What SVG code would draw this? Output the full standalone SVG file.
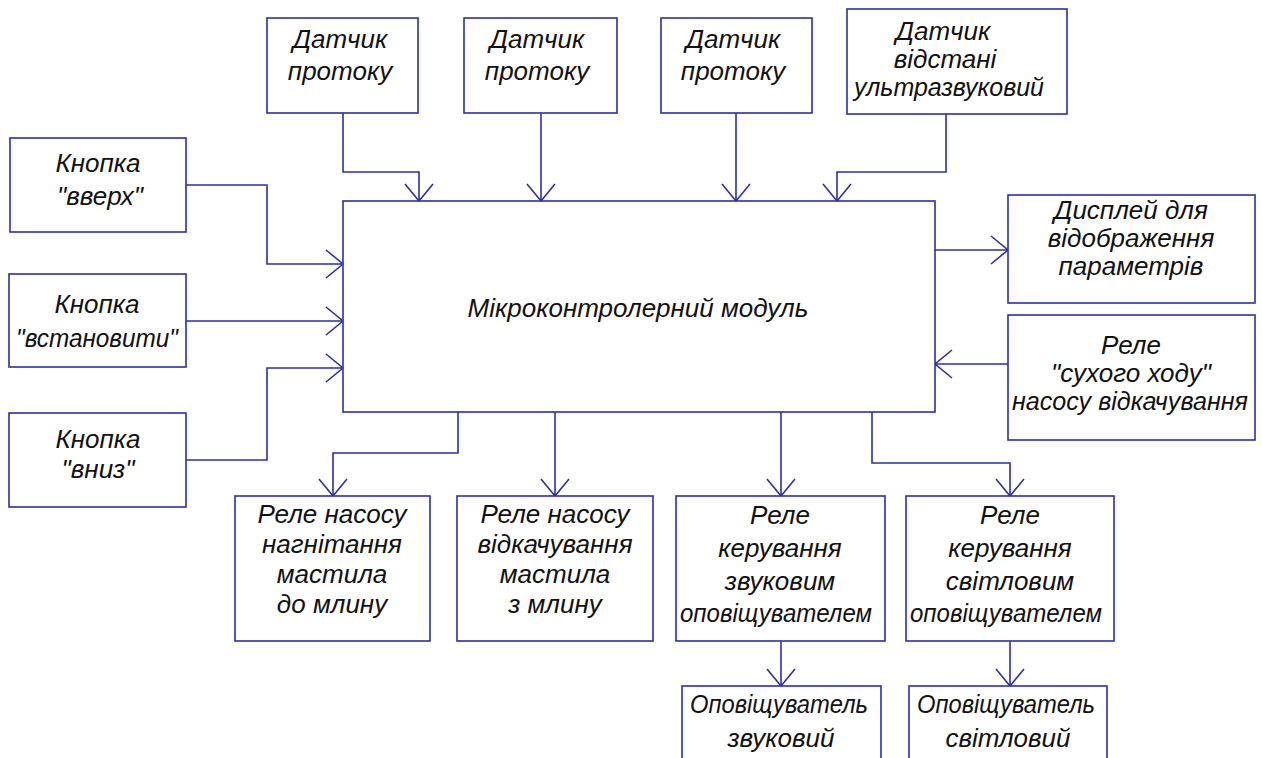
<svg xmlns="http://www.w3.org/2000/svg" width="1262" height="758" viewBox="0 0 1262 758">
<style>
.box{fill:#fff;stroke:#2e2ea8;stroke-width:1.6}
.ln{fill:none;stroke:#2e2ea8;stroke-width:1.6;marker-end:url(#ah)}
text{font-family:"Liberation Sans",Arial,sans-serif;font-style:italic;font-size:26px;fill:#111;text-anchor:middle}
</style>
<defs>
<marker id="ah" markerUnits="userSpaceOnUse" markerWidth="40" markerHeight="40" viewBox="-20 -20 40 40" refX="0" refY="0" orient="auto" overflow="visible">
<path d="M-17,-14 L0,0 L-17,14" fill="none" stroke="#2e2ea8" stroke-width="1.6"/>
</marker>
</defs>
<rect width="1262" height="758" fill="#fff"/>
<g id="connectors">
<path class="ln" d="M343,113 V172 H419 V201"/>
<path class="ln" d="M541,113 V201"/>
<path class="ln" d="M736,113 V201"/>
<path class="ln" d="M946,114 V172 H837 V201"/>
<path class="ln" d="M186,185 H267 V264 H343"/>
<path class="ln" d="M186,321 H343"/>
<path class="ln" d="M186,460 H267 V368 H343"/>
<path class="ln" d="M935,250 H1008"/>
<path class="ln" d="M1008,364 H935"/>
<path class="ln" d="M458,412 V453 H333 V496"/>
<path class="ln" d="M555,412 V496"/>
<path class="ln" d="M781,412 V496"/>
<path class="ln" d="M872,412 V463 H1010 V496"/>
<path class="ln" d="M781,641 V686"/>
<path class="ln" d="M1010,641 V686"/>
</g>
<g id="sensor1"><rect class="box" x="267" y="18" width="151" height="95"/><text x="340" y="48">Датчик</text><text x="340" y="80">протоку</text></g>
<g id="sensor2"><rect class="box" x="464" y="18" width="153" height="95"/><text x="537" y="48">Датчик</text><text x="537" y="80">протоку</text></g>
<g id="sensor3"><rect class="box" x="661" y="18" width="151" height="95"/><text x="733" y="48">Датчик</text><text x="733" y="80">протоку</text></g>
<g id="sensor4"><rect class="box" x="847" y="9" width="220" height="105"/><text x="943" y="40">Датчик</text><text x="945" y="68">відстані</text><text x="949" y="96" textLength="190" lengthAdjust="spacingAndGlyphs">ультразвуковий</text></g>
<g id="btn-up"><rect class="box" x="10" y="138" width="176" height="94"/><text x="98" y="172">Кнопка</text><text x="100" y="205">"вверх"</text></g>
<g id="btn-set"><rect class="box" x="9" y="274" width="177" height="93"/><text x="97" y="347" textLength="162" lengthAdjust="spacingAndGlyphs">"встановити"</text><text x="97" y="313">Кнопка</text></g>
<g id="btn-down"><rect class="box" x="9" y="413" width="177" height="94"/><text x="98" y="448">Кнопка</text><text x="98" y="478">"вниз"</text></g>
<g id="mcu"><rect class="box" x="343" y="201" width="592" height="211"/><text x="638" y="317">Мікроконтролерний модуль</text></g>
<g id="display"><rect class="box" x="1008" y="195" width="247" height="108"/><text x="1131" y="219">Дисплей для</text><text x="1131" y="247">відображення</text><text x="1131" y="275">параметрів</text></g>
<g id="dry-relay"><rect class="box" x="1008" y="315" width="247" height="125"/><text x="1131" y="354">Реле</text><text x="1131" y="382">"сухого ходу"</text><text x="1130" y="410" textLength="236" lengthAdjust="spacingAndGlyphs">насосу відкачування</text></g>
<g id="relay-in"><rect class="box" x="235" y="496" width="195" height="145"/><text x="332" y="523">Реле насосу</text><text x="332" y="553">нагнітання</text><text x="332" y="583">мастила</text><text x="332" y="613">до млину</text></g>
<g id="relay-out"><rect class="box" x="457" y="496" width="196" height="145"/><text x="555" y="523">Реле насосу</text><text x="555" y="553">відкачування</text><text x="555" y="583">мастила</text><text x="555" y="613">з млину</text></g>
<g id="relay-sound"><rect class="box" x="676" y="496" width="209" height="145"/><text x="780" y="524">Реле</text><text x="780" y="557">керування</text><text x="780" y="590">звуковим</text><text x="776" y="622" textLength="192" lengthAdjust="spacingAndGlyphs">оповіщувателем</text></g>
<g id="relay-light"><rect class="box" x="906" y="496" width="208" height="145"/><text x="1010" y="524">Реле</text><text x="1010" y="557">керування</text><text x="1010" y="590">світловим</text><text x="1006" y="622" textLength="192" lengthAdjust="spacingAndGlyphs">оповіщувателем</text></g>
<g id="alarm-sound"><rect class="box" x="682" y="686" width="199" height="90"/><text x="779" y="713" textLength="178" lengthAdjust="spacingAndGlyphs">Оповіщуватель</text><text x="781" y="747">звуковий</text></g>
<g id="alarm-light"><rect class="box" x="909" y="686" width="198" height="90"/><text x="1006" y="713" textLength="178" lengthAdjust="spacingAndGlyphs">Оповіщуватель</text><text x="1008" y="747">світловий</text></g>
</svg>
